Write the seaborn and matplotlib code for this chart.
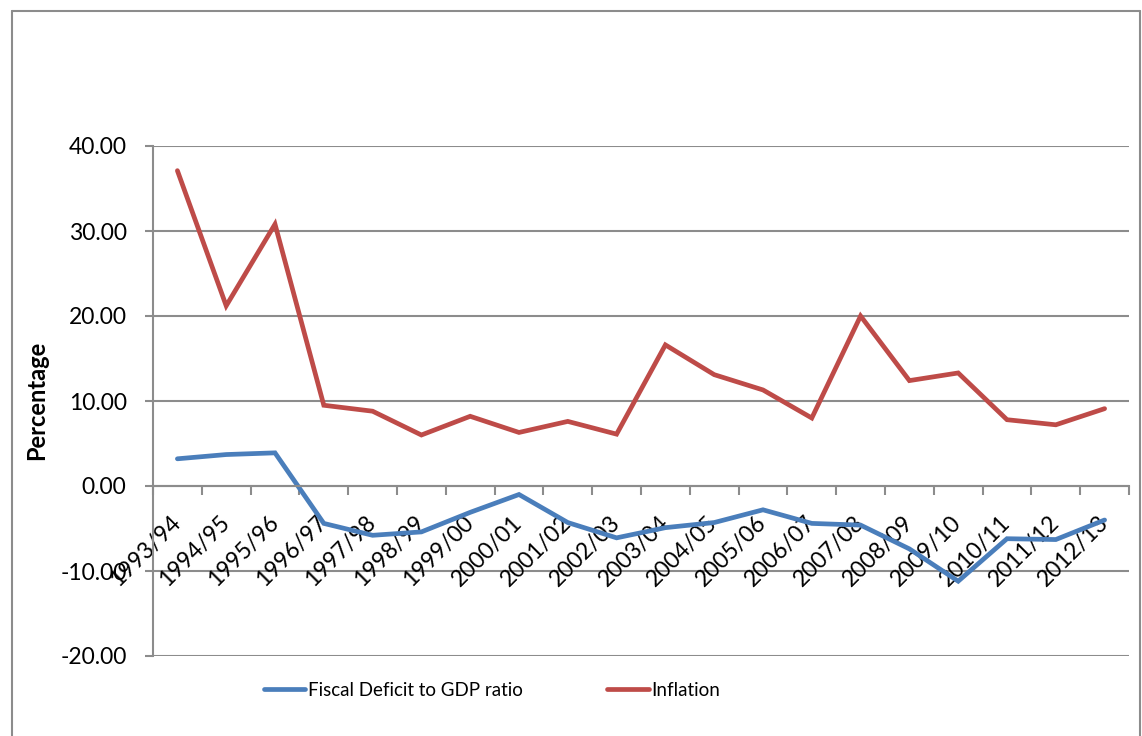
import numpy as np
import pandas as pd
import matplotlib
matplotlib.use("Agg")
import matplotlib.pyplot as plt
from matplotlib.lines import Line2D
import seaborn as sns

years = ["1993/94", "1994/95", "1995/96", "1996/97", "1997/98", "1998/99", "1999/00",
         "2000/01", "2001/02", "2002/03", "2003/04", "2004/05", "2005/06", "2006/07",
         "2007/08", "2008/09", "2009/10", "2010/11", "2011/12", "2012/13"]
fiscal_deficit = [3.2, 3.7, 3.9, -4.4, -5.8, -5.4, -3.1, -1.0, -4.3, -6.1,
                  -4.9, -4.3, -2.8, -4.4, -4.6, -7.4, -11.2, -6.2, -6.3, -4.0]
inflation = [37.1, 21.2, 30.8, 9.5, 8.8, 6.0, 8.2, 6.3, 7.6, 6.1,
             16.6, 13.1, 11.3, 8.0, 20.0, 12.4, 13.3, 7.8, 7.2, 9.1]
series_names = ["Fiscal Deficit to GDP ratio", "Inflation"]
y_ticks = [-20, -10, 0, 10, 20, 30, 40]

colors = ["#4A7EBB", "#BE4B48"]
grid_col = "#8C8C8C"

sns.set_style("white")
plt.rcParams["font.family"] = ["Lato", "DejaVu Sans"]
plt.rcParams["text.color"] = "black"
plt.rcParams["xtick.labelcolor"] = "black"
plt.rcParams["ytick.labelcolor"] = "black"

n = len(years)
pos = np.arange(n) + 0.5
df = pd.DataFrame({
    "pos": np.concatenate([pos, pos]),
    "value": fiscal_deficit + inflation,
    "series": [series_names[0]] * n + [series_names[1]] * n,
})

fig = plt.figure(figsize=(11.42, 7.36), dpi=100)
ax = fig.add_axes([153 / 1142, 1 - 656 / 736, (1129 - 153) / 1142, (656 - 146) / 736])

sns.lineplot(data=df, x="pos", y="value", hue="series", palette=colors,
             linewidth=3.4, ax=ax, legend=False, sort=False)
for line in ax.get_lines():
    line.set_solid_capstyle("round")
    line.set_solid_joinstyle("miter")

ax.set_xlim(0, n)
ax.set_ylim(-20, 40)
ax.set_yticks(y_ticks)
ax.set_yticklabels([f"{v:.2f}" for v in y_ticks], fontsize=16.5, color="black")
for v in y_ticks:
    ax.axhline(v, color=grid_col, lw=1.5, zorder=0)

# spines
for s in ["top", "right"]:
    ax.spines[s].set_visible(False)
ax.spines["left"].set_color(grid_col)
ax.spines["left"].set_linewidth(1.5)
ax.spines["bottom"].set_position(("data", 0))
ax.spines["bottom"].set_color(grid_col)
ax.spines["bottom"].set_linewidth(1.5)

ax.tick_params(axis="y", direction="out", length=6, width=1.5, color=grid_col, pad=13,
               left=True, labelleft=True)
ax.set_xticks(pos)
ax.set_xticklabels(years, fontsize=16.5, rotation=45, ha="right", va="center",
                   rotation_mode="anchor", color="black")
ax.tick_params(axis="x", which="major", length=0, pad=24, bottom=True)
ax.set_xticks(np.arange(n + 1), minor=True)
ax.tick_params(axis="x", which="minor", direction="out", length=6.5, width=1.5,
               color=grid_col, bottom=True)
ax.set_xlabel("")
ax.set_ylabel("")

fig.text(37 / 1142, 1 - 400 / 736, "Percentage", rotation=90, fontsize=17,
         fontweight="bold", ha="center", va="center", color="black")

handles = [Line2D([0], [0], color=c, lw=3.4, solid_capstyle="round") for c in colors]
leg = fig.legend(handles, series_names, loc="center left",
                 bbox_to_anchor=(264 / 1142, 1 - 690 / 736),
                 ncol=2, frameon=False, fontsize=13.5, handlelength=2.2, handletextpad=0.15,
                 columnspacing=4.5, borderpad=0, borderaxespad=0)
for t in leg.get_texts():
    t.set_color("black")

# chart area border
fig.add_artist(Line2D([12 / 1142, 12 / 1142], [0, 1 - 11 / 736], transform=fig.transFigure,
                      color=grid_col, lw=1.5))
fig.add_artist(Line2D([12 / 1142, 1140 / 1142], [1 - 11 / 736, 1 - 11 / 736],
                      transform=fig.transFigure, color=grid_col, lw=1.5))
fig.add_artist(Line2D([1140 / 1142, 1140 / 1142], [0, 1 - 11 / 736], transform=fig.transFigure,
                      color=grid_col, lw=1.5))

fig.savefig("out.png", dpi=100)
